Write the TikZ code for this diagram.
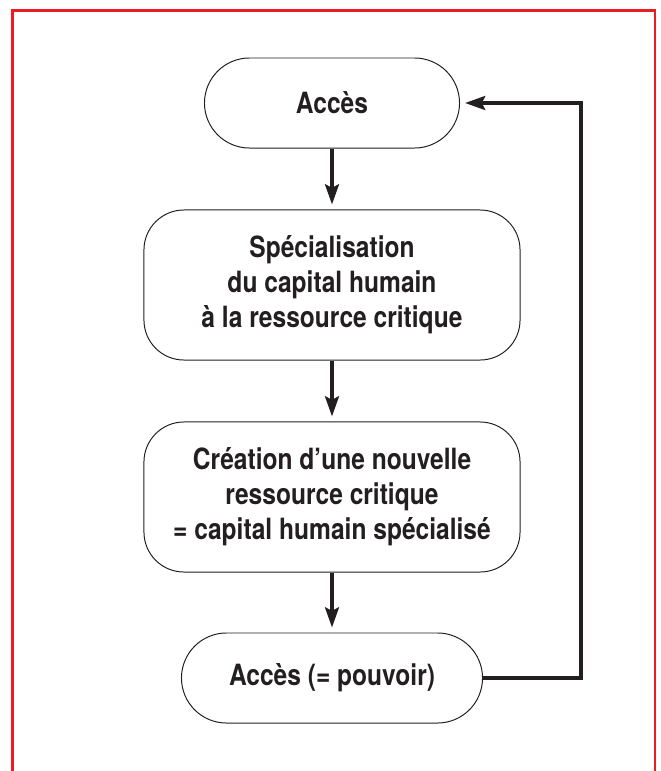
\documentclass[tikz,border=0pt]{standalone}
\usepackage{fontspec}
\setmainfont{TeX Gyre Heros}[FakeStretch=0.84]
\usetikzlibrary{arrows.meta}
\definecolor{ink}{HTML}{231F20}
\definecolor{framered}{HTML}{ED1C24}
\begin{document}
\begin{tikzpicture}[x=0.025cm,y=-0.025cm,>={Stealth[length=0.5cm,width=0.34cm,inset=0.08cm]}]
\tikzset{
  pill/.style={draw=ink,line width=0.7pt,shape=rectangle,rounded corners=1.125cm,minimum height=2.25cm,inner sep=0pt,text=ink,font=\bfseries\fontsize{20.8}{25}\selectfont},
  block/.style={draw=ink,line width=0.7pt,shape=rectangle,rounded corners=1cm,minimum width=9.4cm,minimum height=3.75cm,inner sep=0pt,align=center,text=ink,font=\bfseries\fontsize{20.8}{25}\selectfont},
  flow/.style={->,draw=ink,line width=3.5pt,shorten >=3.5pt}
}
\useasboundingbox (0,0) rectangle (661,771);
\draw[framered,line width=2.1pt] (12.5,771) -- (12.5,10.5) -- (655,10.5) -- (655,771);
\node[pill,minimum width=6.375cm] (acces) at (332,103) {Accès};
\node[block] (special) at (332,285) {Spécialisation\\du capital humain\\à la ressource critique};
\node[block] (creation) at (332,497) {Création d’une nouvelle\\ressource critique\\= capital humain spécialisé};
\node[pill,minimum width=7.525cm] (pouvoir) at (332,678) {Accès (= pouvoir)};
\coordinate (bend) at (581,678);
\draw[flow] (acces) -- (special);
\draw[flow] (special) -- (creation);
\draw[flow] (creation) -- (pouvoir);
\draw[flow] (pouvoir.east) -- (bend) |- (acces.east);
\end{tikzpicture}
\end{document}
